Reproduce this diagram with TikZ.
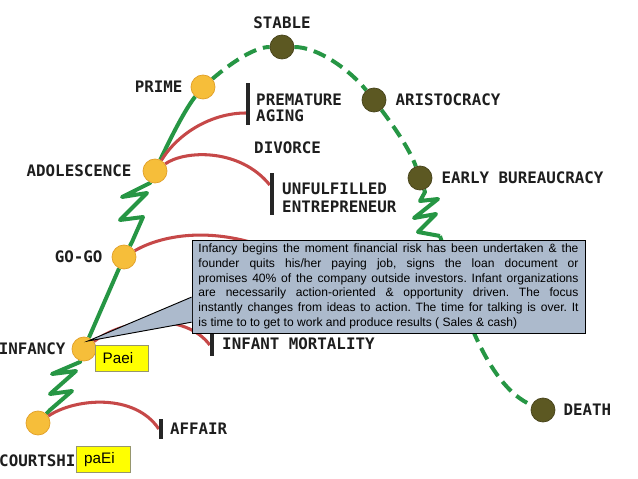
\documentclass[tikz,border=0pt]{standalone}
\usepackage{fontspec}
\setmainfont{Liberation Sans}
\newfontfamily\stagefont{DejaVu Sans Mono}
\usetikzlibrary{positioning, calc, backgrounds}

\definecolor{lifegreen}{RGB}{38,150,68}
\definecolor{trapred}{RGB}{198,72,72}
\definecolor{youngdot}{RGB}{246,190,58}
\definecolor{youngedge}{RGB}{226,160,40}
\definecolor{olddot}{RGB}{92,88,34}
\definecolor{oldedge}{RGB}{70,66,26}
\definecolor{labelblack}{RGB}{30,30,30}
\definecolor{notegray}{RGB}{172,186,204}
\definecolor{tagyellow}{RGB}{255,255,0}
\definecolor{tagedge}{RGB}{150,150,110}

\newcommand{\jline}[1]{\makebox[11.4cm][s]{#1}}

\begin{document}
\frenchspacing
\begin{tikzpicture}[
    x=0.03cm, y=-0.03cm,
    young/.style={circle, fill=youngdot, draw=youngedge, line width=0.6pt, minimum size=0.72cm, inner sep=0pt},
    old/.style={young, fill=olddot, draw=oldedge},
    stage/.style={font=\stagefont\bfseries\fontsize{13.5}{13.7}\selectfont, text=labelblack, inner sep=0pt, align=left},
    growth/.style={lifegreen, line width=3.4pt, line join=round},
    decline/.style={growth, dash pattern=on 11pt off 6pt},
    trap/.style={trapred, line width=2.6pt},
    stopbar/.style={fill=black!85, minimum width=3.4pt, inner sep=0pt},
    tag/.style={fill=tagyellow, draw=tagedge, line width=0.8pt, font=\fontsize{13}{15}\selectfont,
        text width=1.16cm, inner xsep=0.22cm, minimum height=0.8cm, align=left},
    note/.style={fill=notegray, draw=black, line width=0.8pt, font=\fontsize{10.3}{12.55}\selectfont,
        align=left, minimum width=11.79cm, minimum height=2.79cm, inner sep=0pt}
]
\useasboundingbox (0,0) rectangle (638,479);

% life cycle stages
\node[young] (courtship) at (38,423) {};
\node[young] (infancy) at (84,349) {};
\node[young] (gogo) at (124,257) {};
\node[young] (adolescence) at (155,171) {};
\node[young] (prime) at (203,87) {};
\node[old] (stable) at (282,47) {};
\node[old] (aristocracy) at (374,100) {};
\node[old] (bureaucracy) at (420,178) {};
\node[old] (death) at (543,410) {};

% traps
\node[stopbar, minimum height=0.6cm] (affairbar) at (161,429) {};
\node[stopbar, minimum height=0.66cm] (mortalitybar) at (212,345) {};
\node[stopbar, minimum height=1.26cm] (agingbar) at (248,104) {};
\node[stopbar, minimum height=1.26cm] (unfulfilledbar) at (272,194) {};
\coordinate (gogoend) at (300,262);

\begin{scope}[on background layer]
    \fill[white] (0,0) rectangle (638,479);
    \draw[growth] (courtship) -- (50,410) -- (72,391) -- (50,394) -- (76,371) -- (52,374) -- (80,362) -- (infancy);
    \draw[growth] (infancy) -- (gogo);
    \draw[growth] (gogo) -- (132,242) -- (143,217) -- (120,220) -- (147,193) -- (122,197) -- (150,183) -- (adolescence);
    \draw[growth] (adolescence) .. controls (172,135) and (186,108) .. (prime);
    \draw[decline] (prime) .. controls (232,62) and (255,47) .. (stable);
    \draw[decline] (stable) .. controls (318,47) and (350,70) .. (aristocracy);
    \draw[decline] (aristocracy) .. controls (395,128) and (410,150) .. (bureaucracy);
    \draw[growth] (bureaucracy) -- (425,192) -- (420,201) -- (438,199) -- (414,218) -- (436,214) -- (418,232) -- (440,236);
    \draw[decline] (440,236) .. controls (460,300) and (485,385) .. (death);

    \draw[trap] (courtship) .. controls (75,398) and (135,393) .. (affairbar.west);
    \draw[trap] (infancy) .. controls (125,318) and (185,312) .. (mortalitybar.west);
    \draw[trap] (gogo) .. controls (160,236) and (220,220) .. (gogoend);
    \draw[trap] (adolescence) .. controls (178,133) and (212,113) .. ([yshift=-0.27cm]agingbar.west);
    \draw[trap] (adolescence) .. controls (185,150) and (240,148) .. ([yshift=0.27cm]unfulfilledbar.west);
\end{scope}

% labels
\node[stage, above=0.18cm of stable] (stablelabel) {STABLE};
\node[stage, left=0.24cm of prime] (primelabel) {PRIME};
\node[stage, anchor=west] (aginglabel) at (256,108) {PREMATURE\\AGING};
\node[stage, right=0.27cm of aristocracy] (aristocracylabel) {ARISTOCRACY};
\node[stage, anchor=west] (divorcelabel) at (254,148) {DIVORCE};
\node[stage, left=0.33cm of adolescence] (adolescencelabel) {ADOLESCENCE};
\node[stage, right=0.27cm of bureaucracy] (bureaucracylabel) {EARLY BUREAUCRACY};
\node[stage, anchor=west] (unfulfilledlabel) at (282,198) {UNFULFILLED\\[1.7pt]ENTREPRENEUR};
\node[stage, left=0.27cm of gogo] (gogolabel) {GO-GO};
\node[stage, left=0.18cm of infancy] (infancylabel) {INFANCY};
\node[stage, anchor=west] (mortalitylabel) at (222,344) {INFANT MORTALITY};
\node[stage, right=0.2cm of affairbar] (affairlabel) {AFFAIR};
\node[stage, anchor=west] (courtshiplabel) at (-1,461) {COURTSHIP};
\node[stage, right=0.24cm of death] (deathlabel) {DEATH};

% callout
\node[note] (note) at (388.5,286.5) {%
\jline{Infancy begins the moment financial risk has been undertaken \& the}\\
\jline{founder quits his/her paying job, signs the loan document or}\\
\jline{promises 40\% of the company outside investors. Infant organizations}\\
\jline{are necessarily action-oriented \& opportunity driven. The focus}\\
\jline{instantly changes from ideas to action. The time for talking is over. It}\\
is time to to get to work and produce results ( Sales \& cash)};
\coordinate (tip) at (88,341);
\coordinate (pa) at ($(note.north west)!0.613!(note.south west)$);
\coordinate (pb) at ($(note.north west)!0.88!(note.south west)$);
\fill[notegray] ([xshift=0.5pt]pa) -- (tip) -- ([xshift=0.5pt]pb) -- cycle;
\draw[line width=0.8pt] (pa) -- (tip) -- (pb);

% style codes
\node[tag] (paei) at (122,358.5) {Paei};
\node[tag] (paEi) at (103.5,459.5) {paEi};
\end{tikzpicture}
\end{document}
